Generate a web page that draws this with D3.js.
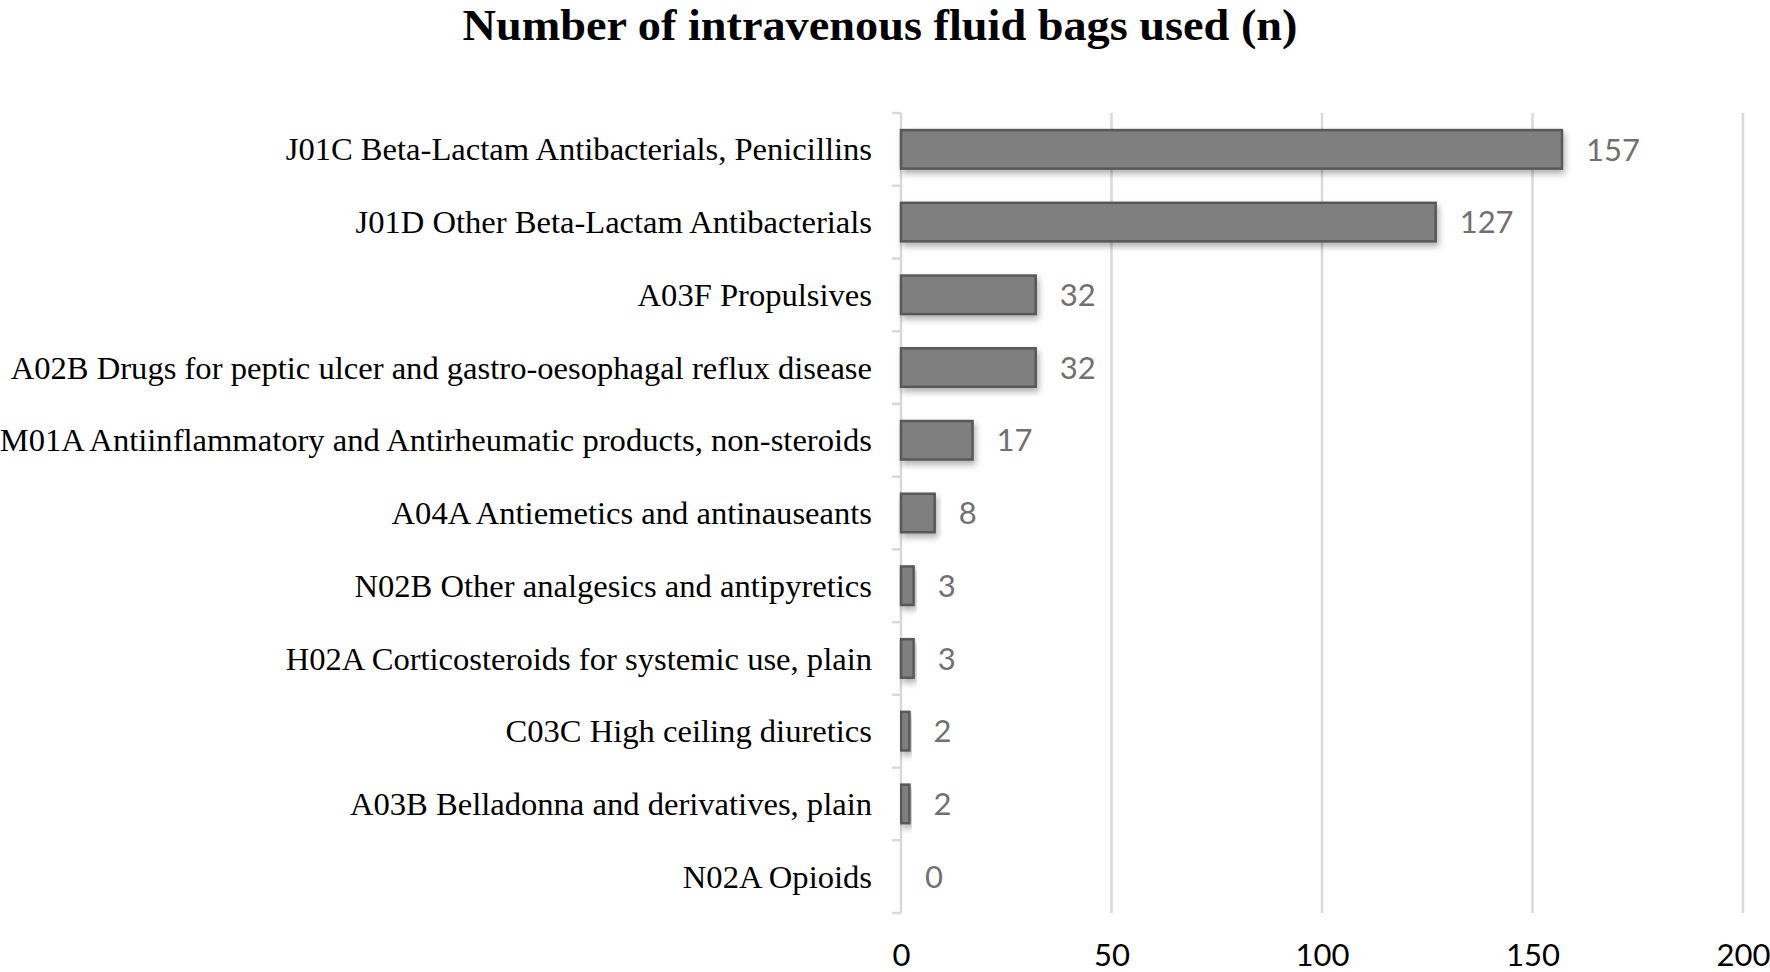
<!DOCTYPE html>
<html><head><meta charset="utf-8">
<script src="https://cdn.jsdelivr.net/npm/d3@7"></script>
<style>body{margin:0;background:#fff}svg{display:block}</style>
</head><body>
<svg id="chart" width="1770" height="972"></svg>
<script>
const categories = [
  "J01C Beta-Lactam Antibacterials, Penicillins",
  "J01D Other Beta-Lactam Antibacterials",
  "A03F Propulsives",
  "A02B Drugs for peptic ulcer and gastro-oesophagal reflux disease",
  "M01A Antiinflammatory and Antirheumatic products, non-steroids",
  "A04A Antiemetics and antinauseants",
  "N02B Other analgesics and antipyretics",
  "H02A Corticosteroids for systemic use, plain",
  "C03C High ceiling diuretics",
  "A03B Belladonna and derivatives, plain",
  "N02A Opioids"
];
const values = [157, 127, 32, 32, 17, 8, 3, 3, 2, 2, 0];
const xTicks = [0, 50, 100, 150, 200];
const title = "Number of intravenous fluid bags used (n)";

(function(){
const svg = d3.select("#chart");
const mL = 901, mR = 1743, mT = 113, mB = 913;

const x = d3.scaleLinear().domain([0, 200]).range([mL, mR]);
const y = d3.scaleBand().domain(categories).range([mT, mB]).paddingInner(0.47).paddingOuter(0.235);
const yb = d3.scaleBand().domain(categories).range([mT, mB]);
const data = values.map((v,i)=>({v, c: categories[i]}));

const defs = svg.append("defs");
const f = defs.append("filter").attr("id","sh").attr("x","-10%").attr("y","-30%").attr("width","130%").attr("height","180%");
f.append("feDropShadow").attr("dx",2).attr("dy",4).attr("stdDeviation",3).attr("flood-color","#000").attr("flood-opacity",0.3);

// gridlines
svg.append("g").selectAll("line").data(xTicks.slice(1)).join("line")
  .attr("x1", d => x(d)).attr("x2", d => x(d))
  .attr("y1", mT).attr("y2", mB)
  .attr("stroke", "#d9d9d9").attr("stroke-width", 2.5);

// y axis line + ticks
svg.append("line").attr("x1", mL).attr("x2", mL).attr("y1", mT).attr("y2", mB)
  .attr("stroke", "#d9d9d9").attr("stroke-width", 2.5);
const bounds = categories.map(c => yb(c)).concat([mB]);
svg.append("g").selectAll("line").data(bounds).join("line")
  .attr("x1", mL - 9).attr("x2", mL).attr("y1", d => d).attr("y2", d => d)
  .attr("stroke", "#d9d9d9").attr("stroke-width", 2.5);

// bars
svg.append("g").selectAll("rect").data(data.filter(d => d.v > 0)).join("rect")
  .attr("x", x(0)).attr("y", d => y(d.c))
  .attr("width", d => x(d.v) - x(0)).attr("height", y.bandwidth())
  .attr("fill", "#7f7f7f").attr("stroke", "#595959").attr("stroke-width", 2.5)
  .attr("filter", "url(#sh)");

// value labels
svg.append("g").selectAll("text").data(data).join("text")
  .attr("x", d => x(d.v) + 24).attr("y", d => y(d.c) + y.bandwidth()/2)
  .attr("dy", "0.36em")
  .attr("font-family", "Lato, sans-serif").attr("font-size", 31).attr("fill", "#707070")
  .text(d => d.v);

// category labels
svg.append("g").selectAll("text").data(categories).join("text")
  .attr("x", 872).attr("y", d => yb(d) + yb.bandwidth()/2)
  .attr("dy", "0.34em").attr("text-anchor", "end")
  .attr("font-family", "'Liberation Serif', 'Times New Roman', serif").attr("font-size", 32.6).attr("fill", "#000")
  .text(d => d);

// x tick labels
const xAxis = d3.axisBottom(x).tickValues(xTicks).tickSize(0).tickPadding(0);
const gx = svg.append("g").attr("transform", `translate(0,${mB})`).call(xAxis);
gx.select(".domain").remove();
gx.selectAll("text").attr("y", 53).attr("dy", "0")
  .attr("font-family", "Lato, sans-serif").attr("font-size", 31).attr("fill", "#000");

// title
svg.append("text").attr("x", 880).attr("y", 40).attr("text-anchor", "middle")
  .attr("font-family", "'Liberation Serif', 'Times New Roman', serif").attr("font-weight", "bold")
  .attr("font-size", 44).attr("textLength", 835).attr("lengthAdjust", "spacingAndGlyphs")
  .attr("fill", "#000").text(title);
})();
</script>
</body></html>
